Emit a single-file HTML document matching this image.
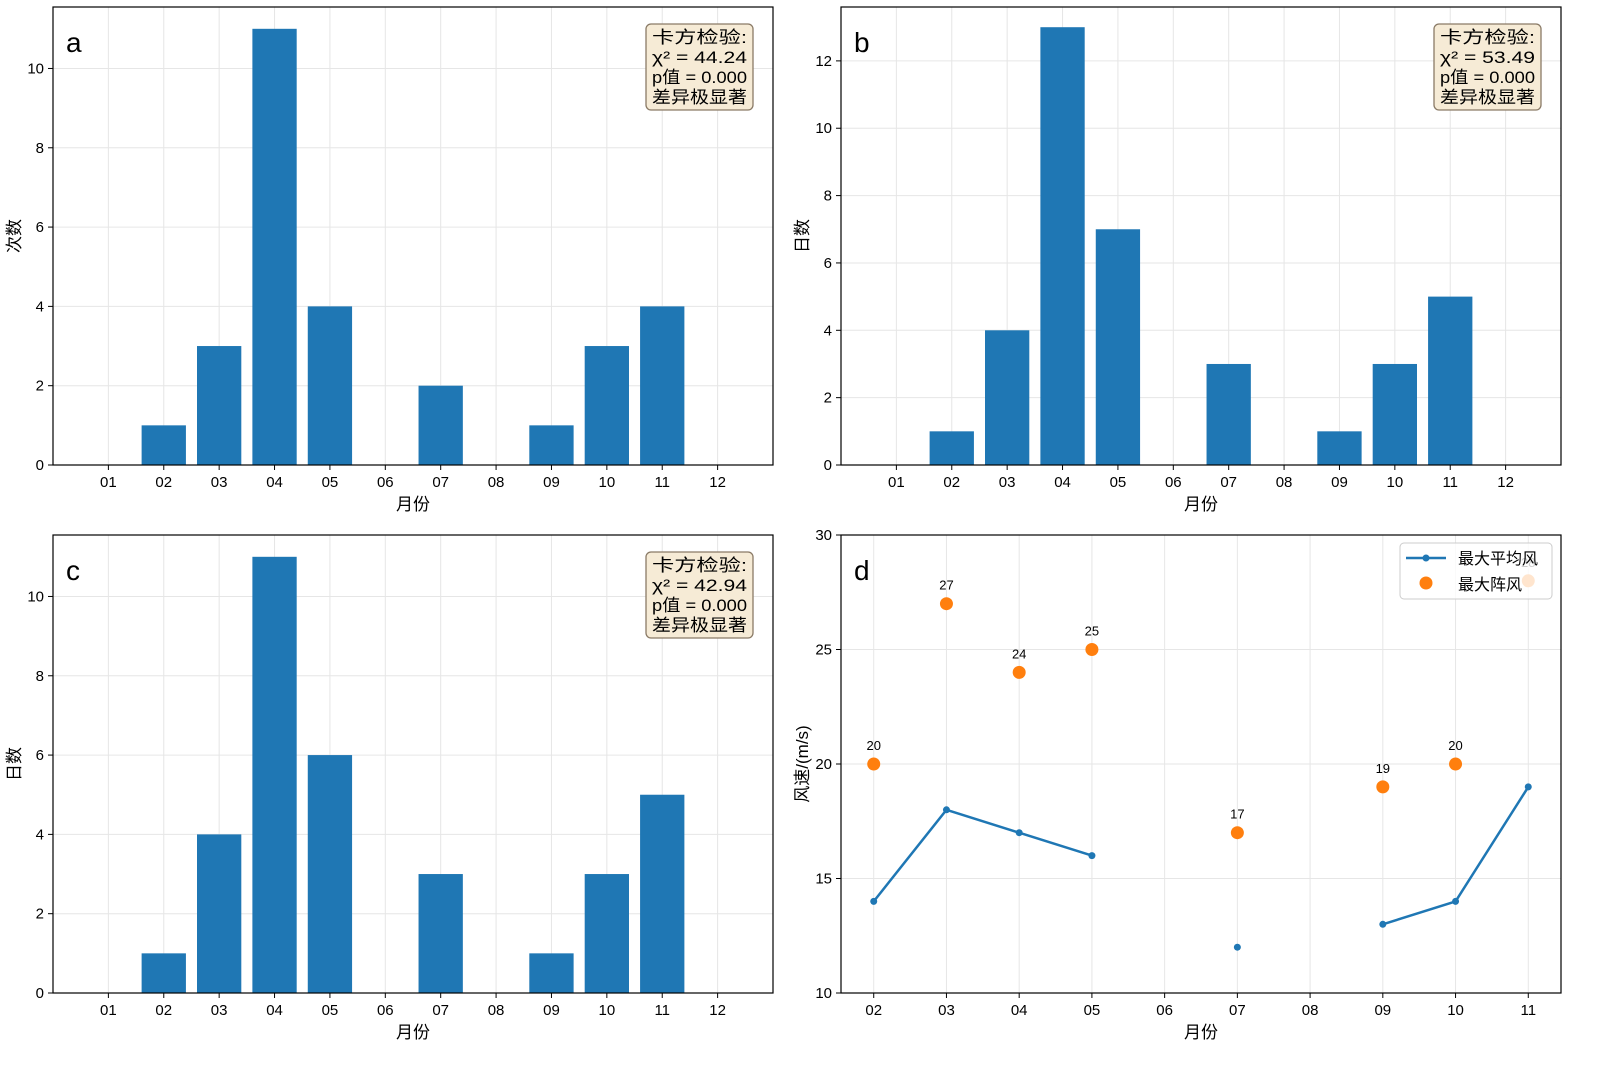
<!DOCTYPE html>
<html><head><meta charset="utf-8"><style>
body{margin:0;background:#fff;}
svg{display:block;font-family:"Liberation Sans","Noto Sans CJK SC",sans-serif;}
</style></head><body>
<svg id="s" width="1600" height="1066" xmlns="http://www.w3.org/2000/svg"></svg>
<script>
const months=["01","02","03","04","05","06","07","08","09","10","11","12"];
const countA=[0,1,3,11,4,0,2,0,1,3,4,0];
const countB=[0,1,4,13,7,0,3,0,1,3,5,0];
const countC=[0,1,4,11,6,0,3,0,1,3,5,0];
const ticksA=[0,2,4,6,8,10];
const ticksB=[0,2,4,6,8,10,12];
const windCats=["02","03","04","05","06","07","08","09","10","11"];
const meanWind=[14,18,17,16,null,12,null,13,14,19];
const gustWind=[20,27,24,25,null,17,null,19,20,28];
const ticksD=[10,15,20,25,30];
const chiA=["卡方检验:"," χ² = 44.24","p值 = 0.000","差异极显著"];
const chiB=["卡方检验:"," χ² = 53.49","p值 = 0.000","差异极显著"];
const chiC=["卡方检验:"," χ² = 42.94","p值 = 0.000","差异极显著"];

const S=document.getElementById('s');
const NS="http://www.w3.org/2000/svg";
function mk(tag,attrs,parent,txt){const e=document.createElementNS(NS,tag);for(const k in attrs)e.setAttribute(k,attrs[k]);if(txt!==undefined)e.textContent=txt;(parent||S).appendChild(e);return e;}

function panel(id,x0,y0,w,h,cats,ymin,ymax,yt,ylabel,bar){
  const g=mk('g',{});
  
  
  const n=cats.length;
  let step,off;
  if(bar){step=w/(n+1);off=step;}else{step=w/(n-1+0.9);off=step*0.45;}
  const xs=i=>x0+off+step*i;
  const ys=v=>y0+h-(v-ymin)/(ymax-ymin)*h;
  cats.forEach((c,i)=>{const l=mk('line',{x1:xs(i),x2:xs(i),y1:y0,y2:y0+h,stroke:'#e6e6e6','stroke-width':1},g);});
  yt.forEach(v=>{const l=mk('line',{x1:x0,x2:x0+w,y1:ys(v),y2:ys(v),stroke:'#e6e6e6','stroke-width':1},g);});
  cats.forEach((c,i)=>{mk('line',{x1:xs(i),x2:xs(i),y1:y0+h,y2:y0+h+5,stroke:'#000'},g);const t=mk('text',{x:xs(i),y:y0+h+22,'text-anchor':'middle','font-size':15},g,c);});
  yt.forEach(v=>{mk('line',{x1:x0-5,x2:x0,y1:ys(v),y2:ys(v),stroke:'#000'},g);const t=mk('text',{x:x0-9,y:ys(v)+5,'text-anchor':'end','font-size':15},g,v);});
  const xl=mk('text',{x:x0+w/2,y:y0+h+45,'text-anchor':'middle','font-size':17},g,'月份');
  
  const yl=mk('text',{x:0,y:0,'text-anchor':'middle','font-size':17,transform:`translate(${x0-33},${y0+h/2}) rotate(-90)`},g,ylabel);
  
  const pl=mk('text',{x:x0+13,y:y0+45,'font-size':28},g,id);
  
  return {g,xs,ys,step,frame:()=>{const f=mk('rect',{x:x0,y:y0,width:w,height:h,fill:'none',stroke:'#000','stroke-width':1.2},g);}};
}
function bars(p,vals){
  vals.forEach((v,i)=>{if(!v)return;const r=mk('rect',{x:p.xs(i)-p.step*0.4,y:p.ys(v),width:p.step*0.8,height:p.ys(0)-p.ys(v),fill:'#1f77b4'},p.g);
  });
}
function chibox(p,x,y,lines){
  const b=mk('g',{},p.g);
  mk('rect',{x:x,y:y,width:107,height:86,rx:5,fill:'#f6ebd6',stroke:'#8a7a66','stroke-width':1.3},b);
  lines.forEach((l,i)=>mk('text',{x:x+6,y:y+19+i*20,'font-size':17,textLength:95,lengthAdjust:'spacingAndGlyphs'},b,l));
}
let pa=panel('a',53,7,720,458,months,0,11.55,ticksA,'次数',true);bars(pa,countA);chibox(pa,646,24,chiA);pa.frame();
let pb=panel('b',841,7,720,458,months,0,13.6,ticksB,'日数',true);bars(pb,countB);chibox(pb,1434,24,chiB);pb.frame();
let pc=panel('c',53,535,720,458,months,0,11.55,ticksA,'日数',true);bars(pc,countC);chibox(pc,646,552,chiC);pc.frame();
let pd=panel('d',841,535,720,458,windCats,10,30,ticksD,'风速/(m/s)',false);
(function(){
  const g=pd.g;let seg=[];const segs=[];
  meanWind.forEach((v,i)=>{if(v===null){if(seg.length)segs.push(seg);seg=[];}else seg.push([pd.xs(i),pd.ys(v)]);});
  if(seg.length)segs.push(seg);
  segs.forEach(s=>{const l=mk('polyline',{points:s.map(p=>p.join(',')).join(' '),fill:'none',stroke:'#1f77b4','stroke-width':2.5},g);});
  meanWind.forEach((v,i)=>{if(v===null)return;const c=mk('circle',{cx:pd.xs(i),cy:pd.ys(v),r:3.5,fill:'#1f77b4'},g);});
  gustWind.forEach((v,i)=>{if(v===null)return;const c=mk('circle',{cx:pd.xs(i),cy:pd.ys(v),r:6.5,fill:'#ff7f0e'},g);
    const t=mk('text',{x:pd.xs(i),y:pd.ys(v)-14,'text-anchor':'middle','font-size':13},g,v);});
  const lg=mk('g',{},g);
  mk('rect',{x:1400,y:543,width:152,height:56,rx:4,fill:'rgba(255,255,255,0.8)',stroke:'#ccc'},lg);
  mk('line',{x1:1406,x2:1446,y1:558,y2:558,stroke:'#1f77b4','stroke-width':2.5},lg);
  mk('circle',{cx:1426,cy:558,r:3.5,fill:'#1f77b4'},lg);
  mk('circle',{cx:1426,cy:583,r:6.5,fill:'#ff7f0e'},lg);
  mk('text',{x:1458,y:564,'font-size':16},lg,'最大平均风');
  mk('text',{x:1458,y:590,'font-size':16},lg,'最大阵风');
})();
pd.frame();
</script>
</body></html>
